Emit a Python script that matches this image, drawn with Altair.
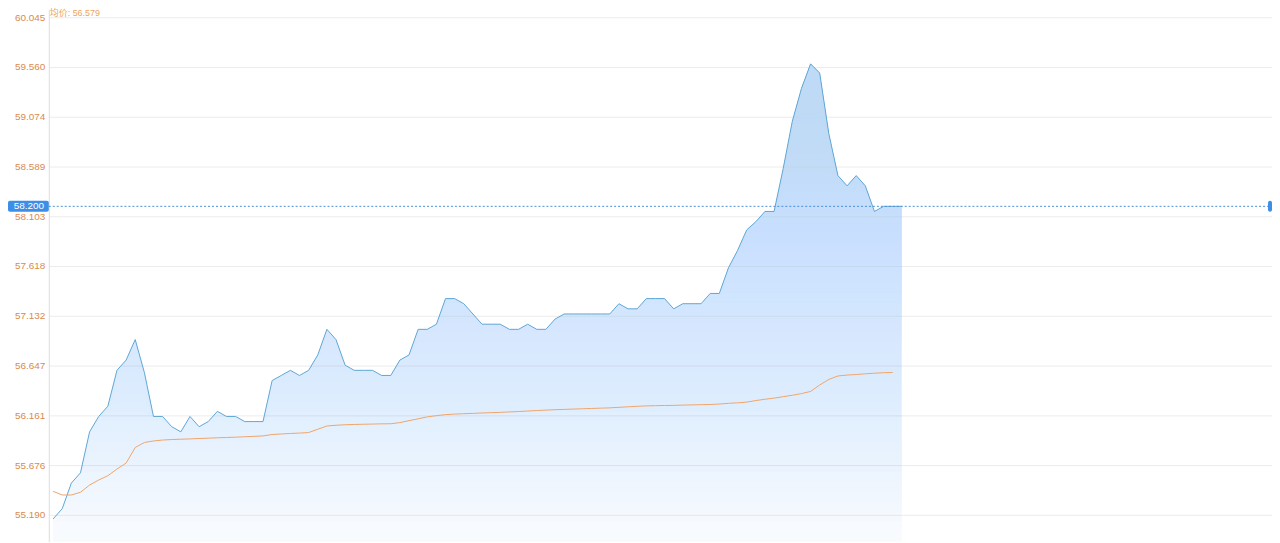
import altair as alt
import pandas as pd

# minute-bar prices (blue line) and running average price (orange line)
price = [55.15, 55.25, 55.50, 55.60, 56.00, 56.15, 56.25, 56.60, 56.70, 56.90,
         56.58, 56.15, 56.15, 56.05, 56.00, 56.15, 56.05, 56.10, 56.20, 56.15,
         56.15, 56.10, 56.10, 56.10, 56.50, 56.55, 56.60, 56.55, 56.60, 56.75,
         57.00, 56.90, 56.65, 56.60, 56.60, 56.60, 56.55, 56.55, 56.70, 56.75,
         57.00, 57.00, 57.05, 57.30, 57.30, 57.25, 57.15, 57.05, 57.05, 57.05,
         57.00, 57.00, 57.05, 57.00, 57.00, 57.10, 57.15, 57.15, 57.15, 57.15,
         57.15, 57.15, 57.25, 57.20, 57.20, 57.30, 57.30, 57.30, 57.20, 57.25,
         57.25, 57.25, 57.35, 57.35, 57.60, 57.77, 57.97, 58.05, 58.15, 58.15,
         58.57, 59.03, 59.35, 59.59, 59.50, 58.91, 58.50, 58.40, 58.50, 58.40,
         58.15, 58.20, 58.20, 58.20]

avg = [55.420, 55.384, 55.384, 55.410, 55.481, 55.530, 55.572, 55.637, 55.695, 55.847,
       55.896, 55.911, 55.920, 55.925, 55.928, 55.931, 55.935, 55.938, 55.942, 55.945,
       55.948, 55.952, 55.956, 55.960, 55.974, 55.979, 55.984, 55.988, 55.993, 56.025,
       56.057, 56.064, 56.069, 56.072, 56.074, 56.076, 56.078, 56.079, 56.090, 56.109,
       56.127, 56.146, 56.158, 56.168, 56.173, 56.177, 56.180, 56.184, 56.187, 56.190,
       56.194, 56.198, 56.203, 56.208, 56.212, 56.216, 56.219, 56.222, 56.225, 56.228,
       56.231, 56.234, 56.239, 56.244, 56.249, 56.253, 56.255, 56.257, 56.258, 56.261,
       56.263, 56.265, 56.267, 56.271, 56.278, 56.283, 56.290, 56.305, 56.318, 56.329,
       56.343, 56.357, 56.373, 56.394, 56.457, 56.511, 56.545, 56.554, 56.559, 56.566,
       56.572, 56.577, 56.579]

y_ticks = [55.190, 55.676, 56.161, 56.647, 57.132, 57.618,
           58.103, 58.589, 59.074, 59.560, 60.045]

cur = price[-1]
W, H = 1229, 535
FONT = "Liberation Sans, Noto Sans CJK SC"
Y_MIN, Y_MAX = 54.9278, 60.1227

df_p = pd.DataFrame({"i": list(range(len(price))), "price": price})
df_a = pd.DataFrame({"i": list(range(len(avg))), "avg": avg})

xs = alt.Scale(domain=[-0.469, 133.56], nice=False, zero=False)
ys = alt.Scale(domain=[Y_MIN, Y_MAX], nice=False, zero=False)

x_enc = alt.X("i:Q", scale=xs, axis=None)
y_axis = alt.Axis(values=y_ticks, format=".3f", title=None, ticks=False,
                  labelColor="#d98a4e", labelFontSize=10, labelFont=FONT,
                  labelPadding=4, gridColor="#ececec", gridWidth=1,
                  domainColor="#dddddd", labelOverlap=False)

# vertical fill gradient emulated by stacked translucent bands (styling only)
FILL = "#bfdcf7"
top_v = max(price)
n_bands = 48
step = (top_v - Y_MIN) / n_bands
a_bot = 0.10
band_layers = []
prev_A = 0.0
for k in range(n_bands):
    L = Y_MIN + k * step
    A = a_bot + (0.995 - a_bot) * k / (n_bands - 1)
    a = 1 - (1 - A) / (1 - prev_A)
    prev_A = A
    band_layers.append(
        alt.Chart(df_p)
        .transform_calculate(lo=f"min({L:.4f}, datum.price)")
        .mark_area(color=FILL, opacity=round(a, 4), strokeWidth=0)
        .encode(x=x_enc, y=alt.Y("price:Q", scale=ys), y2="lo:Q")
    )

axis_layer = alt.Chart(df_p).mark_line(opacity=0).encode(
    x=x_enc, y=alt.Y("price:Q", scale=ys, axis=y_axis))

line = alt.Chart(df_p).mark_line(color="#5fa6d4", strokeWidth=1).encode(
    x=x_enc, y=alt.Y("price:Q", scale=ys))

avg_line = alt.Chart(df_a).mark_line(color="#f0a46a", strokeWidth=1).encode(
    x=x_enc, y=alt.Y("avg:Q", scale=ys))

cur_df = pd.DataFrame({"p": [cur], "label": [f"{cur:.3f}"]})

rule = alt.Chart(cur_df).mark_rule(color="#4a8fd8", strokeDash=[2, 2], strokeWidth=1).encode(
    x=alt.value(0), x2=alt.value(W - 4), y=alt.Y("p:Q", scale=ys))

box = alt.Chart(cur_df).mark_rect(color="#3d8ee6", yOffset=-5.5, y2Offset=5.5,
                                  cornerRadius=2).encode(
    x=alt.value(-41), x2=alt.value(0), y=alt.Y("p:Q", scale=ys), y2="p:Q")

box_text = alt.Chart(cur_df).mark_text(color="white", fontSize=10, font=FONT,
                                       align="center", baseline="middle").encode(
    x=alt.value(-20), y=alt.Y("p:Q", scale=ys), text="label:N")

marker = alt.Chart(cur_df).mark_rect(color="#3d8ee6", yOffset=-5.5, y2Offset=5.5,
                                     cornerRadius=2).encode(
    x=alt.value(W - 4), x2=alt.value(W), y=alt.Y("p:Q", scale=ys), y2="p:Q")

legend_df = pd.DataFrame({"t": [f"均价: {avg[-1]:.3f}"]})
legend = alt.Chart(legend_df).mark_text(color="#eda55c", fontSize=9, font=FONT,
                                        align="left", baseline="top").encode(
    x=alt.value(1), y=alt.value(0), text="t:N")

chart = alt.layer(axis_layer, *band_layers, line, avg_line, rule, box, box_text,
                  marker, legend).properties(
    width=W, height=H,
    padding={"left": 41, "top": 0, "right": 0, "bottom": 0},
    autosize=alt.AutoSizeParams(type="none"),
    background="white",
).configure_view(stroke=None)

chart.save("out.html", embed_options={"renderer": "svg", "actions": False})
